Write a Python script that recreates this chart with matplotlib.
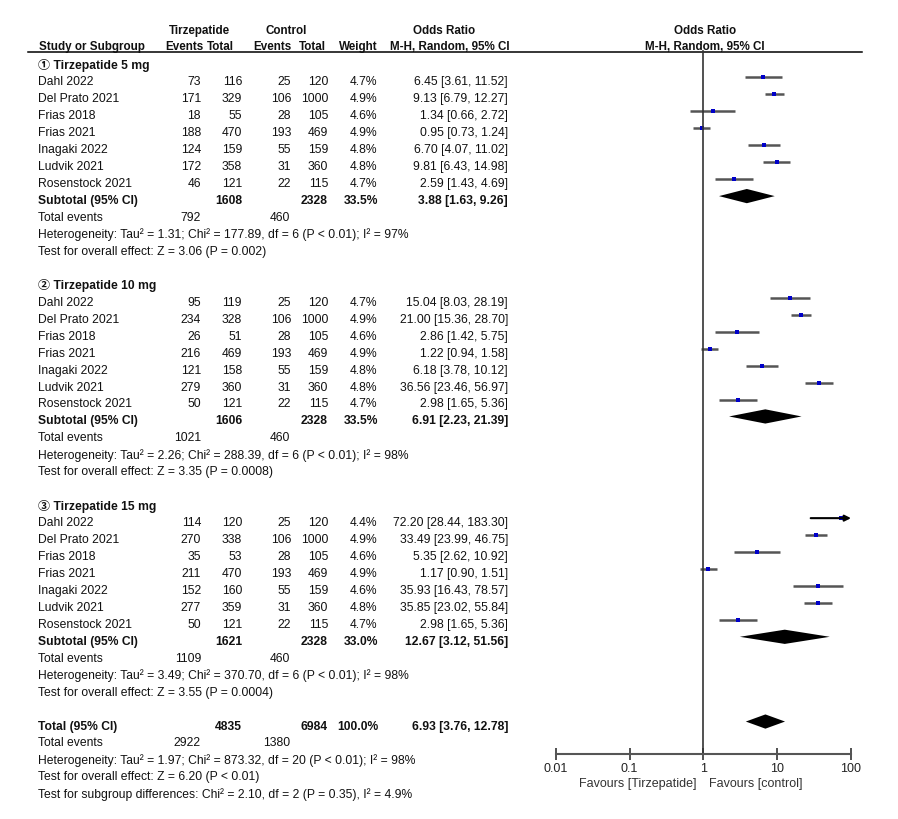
import numpy as np
import matplotlib.pyplot as plt

plt.rcParams['font.family'] = ['Liberation Sans', 'Noto Sans CJK SC', 'DejaVu Sans']

# ---- data ----
studies = ['Dahl 2022', 'Del Prato 2021', 'Frias 2018', 'Frias 2021',
           'Inagaki 2022', 'Ludvik 2021', 'Rosenstock 2021']
group_names = ['\u2460 Tirzepatide 5 mg', '\u2461 Tirzepatide 10 mg', '\u2462 Tirzepatide 15 mg']

tir_events = [[73, 171, 18, 188, 124, 172, 46],
              [95, 234, 26, 216, 121, 279, 50],
              [114, 270, 35, 211, 152, 277, 50]]
tir_total = [[116, 329, 55, 470, 159, 358, 121],
             [119, 328, 51, 469, 158, 360, 121],
             [120, 338, 53, 470, 160, 359, 121]]
ctl_events = [25, 106, 28, 193, 55, 31, 22]
ctl_total = [120, 1000, 105, 469, 159, 360, 115]
weights = [[4.7, 4.9, 4.6, 4.9, 4.8, 4.8, 4.7],
           [4.7, 4.9, 4.6, 4.9, 4.8, 4.8, 4.7],
           [4.4, 4.9, 4.6, 4.9, 4.6, 4.8, 4.7]]
odds = [[6.45, 9.13, 1.34, 0.95, 6.70, 9.81, 2.59],
        [15.04, 21.00, 2.86, 1.22, 6.18, 36.56, 2.98],
        [72.20, 33.49, 5.35, 1.17, 35.93, 35.85, 2.98]]
lower = [[3.61, 6.79, 0.66, 0.73, 4.07, 6.43, 1.43],
         [8.03, 15.36, 1.42, 0.94, 3.78, 23.46, 1.65],
         [28.44, 23.99, 2.62, 0.90, 16.43, 23.02, 1.65]]
upper = [[11.52, 12.27, 2.72, 1.24, 11.02, 14.98, 4.69],
         [28.19, 28.70, 5.75, 1.58, 10.12, 56.97, 5.36],
         [183.30, 46.75, 10.92, 1.51, 78.57, 55.84, 5.36]]

sub_tir_total = [1608, 1606, 1621]
sub_ctl_total = [2328, 2328, 2328]
sub_weight = ['33.5%', '33.5%', '33.0%']
sub_or = [3.88, 6.91, 12.67]
sub_lo = [1.63, 2.23, 3.12]
sub_hi = [9.26, 21.39, 51.56]
sub_tir_events = [792, 1021, 1109]
sub_ctl_events = [460, 460, 460]
sub_het = ['Heterogeneity: Tau\u00b2 = 1.31; Chi\u00b2 = 177.89, df = 6 (P < 0.01); I\u00b2 = 97%',
           'Heterogeneity: Tau\u00b2 = 2.26; Chi\u00b2 = 288.39, df = 6 (P < 0.01); I\u00b2 = 98%',
           'Heterogeneity: Tau\u00b2 = 3.49; Chi\u00b2 = 370.70, df = 6 (P < 0.01); I\u00b2 = 98%']
sub_test = ['Test for overall effect: Z = 3.06 (P = 0.002)',
            'Test for overall effect: Z = 3.35 (P = 0.0008)',
            'Test for overall effect: Z = 3.55 (P = 0.0004)']

tot_tir_total, tot_ctl_total = 4835, 6984
tot_or, tot_lo, tot_hi = 6.93, 3.76, 12.78
tot_tir_events, tot_ctl_events = 2922, 1380
tot_lines = ['Heterogeneity: Tau\u00b2 = 1.97; Chi\u00b2 = 873.32, df = 20 (P < 0.01); I\u00b2 = 98%',
             'Test for overall effect: Z = 6.20 (P < 0.01)',
             'Test for subgroup differences: Chi\u00b2 = 2.10, df = 2 (P = 0.35), I\u00b2 = 4.9%']

tick_vals = [0.01, 0.1, 1, 10, 100]
tick_labels = ['0.01', '0.1', '1', '10', '100']

# ---- layout (pixels) ----
W, H = 898, 820
ROW0, STEP = 65.5, 16.95
FS = 8.7
FS_HEAD = 8.4
TXT = '#111111'
x_name, x_te, x_tt, x_ce, x_ct, x_w, x_or = 38, 201, 242, 291, 328, 377, 508

fig = plt.figure(figsize=(W / 100, H / 100), dpi=100)
ax = fig.add_axes([0, 0, 1, 1])
ax.set_xlim(0, W)
ax.set_ylim((H - ROW0) / STEP, -ROW0 / STEP)
ax.axis('off')

fx0, fx1 = 555.7, 851.0
fax = fig.add_axes([fx0 / W, 4 / H, (fx1 - fx0) / W, 1])
fax.set_xscale('log')
fax.set_xlim(0.01, 100)
fax.set_ylim((H - ROW0) / STEP, -ROW0 / STEP)
fax.patch.set_alpha(0)


def t(x, r, s, ha='left', bold=False, size=FS):
    ax.text(x, r, s, ha=ha, va='center', fontsize=size, color=TXT,
            fontweight='bold' if bold else 'normal')


def hy(pix):
    return (pix - ROW0) / STEP


def head(x, pix, s, ha):
    t(x, hy(pix), s, ha, True, FS_HEAD)


# headers
head(199, 31, 'Tirzepatide', 'center')
head(286, 31, 'Control', 'center')
head(444, 31, 'Odds Ratio', 'center')
head(705, 31, 'Odds Ratio', 'center')
head(39, 47, 'Study or Subgroup', 'left')
head(203, 47, 'Events', 'right')
head(234, 47, 'Total', 'right')
head(292, 47, 'Events', 'right')
head(326, 47, 'Total', 'right')
head(378, 47, 'Weight', 'right')
head(450, 47, 'M-H, Random, 95% CI', 'center')
head(705, 47, 'M-H, Random, 95% CI', 'center')
ax.plot([28, 862], [hy(52.5), hy(52.5)], color='black', lw=1.1)

ci_col = '#555555'
r = 0
for g in range(3):
    t(x_name, r, group_names[g], bold=True)
    r += 1
    for i, s in enumerate(studies):
        t(x_name, r, s)
        t(x_te, r, str(tir_events[g][i]), 'right')
        t(x_tt, r, str(tir_total[g][i]), 'right')
        t(x_ce, r, str(ctl_events[i]), 'right')
        t(x_ct, r, str(ctl_total[i]), 'right')
        t(x_w, r, '%.1f%%' % weights[g][i], 'right')
        t(x_or, r, '%.2f [%.2f, %.2f]' % (odds[g][i], lower[g][i], upper[g][i]), 'right')
        hi = min(upper[g][i], 100)
        if upper[g][i] > 100:
            fax.annotate('', xy=(100, r), xytext=(lower[g][i], r),
                         arrowprops=dict(arrowstyle='-|>', color='black', lw=1.5,
                                         mutation_scale=9, shrinkA=0, shrinkB=0))
        else:
            fax.plot([lower[g][i], hi], [r, r], color=ci_col, lw=1.8, solid_capstyle='butt')
        fax.plot(odds[g][i], r, 's', color='#0000c8', ms=weights[g][i] * 0.6, mew=0)
        r += 1
    t(x_name, r, 'Subtotal (95% CI)', bold=True)
    t(x_tt, r, str(sub_tir_total[g]), 'right', True)
    t(x_ct, r, str(sub_ctl_total[g]), 'right', True)
    t(x_w + 1, r, sub_weight[g], 'right', True)
    t(x_or, r, '%.2f [%.2f, %.2f]' % (sub_or[g], sub_lo[g], sub_hi[g]), 'right', True)
    fax.fill([sub_lo[g], sub_or[g], sub_hi[g], sub_or[g]],
             [r, r - 0.42, r, r + 0.42], color='black', lw=0)
    r += 1
    t(x_name, r, 'Total events')
    t(x_te, r, str(sub_tir_events[g]), 'right')
    t(x_ce - 1, r, str(sub_ctl_events[g]), 'right')
    r += 1
    t(x_name, r, sub_het[g])
    r += 1
    t(x_name, r, sub_test[g])
    r += 2

t(x_name, r, 'Total (95% CI)', bold=True)
t(x_tt, r, str(tot_tir_total), 'right', True)
t(x_ct, r, str(tot_ctl_total), 'right', True)
t(x_w + 1, r, '100.0%', 'right', True)
t(x_or, r, '%.2f [%.2f, %.2f]' % (tot_or, tot_lo, tot_hi), 'right', True)
fax.fill([tot_lo, tot_or, tot_hi, tot_or], [r, r - 0.42, r, r + 0.42], color='black', lw=0)
r += 1
t(x_name, r, 'Total events')
t(x_te, r, str(tot_tir_events), 'right')
t(x_ce - 1, r, str(tot_ctl_events), 'right')
for line in tot_lines:
    r += 1
    t(x_name, r, line)

# forest axis
axis_r = (755 - ROW0 + 4) / STEP
fax.plot([1, 1], [(52 - ROW0 + 4) / STEP, axis_r], color='#333333', lw=1.2)
for sp in ['top', 'left', 'right']:
    fax.spines[sp].set_visible(False)
fax.spines['bottom'].set_position(('data', axis_r))
fax.spines['bottom'].set_color('#555555')
fax.spines['bottom'].set_linewidth(1.5)
fax.set_yticks([])
fax.set_xticks(tick_vals)
fax.set_xticklabels(tick_labels)
fax.xaxis.set_minor_locator(plt.NullLocator())
fax.tick_params(axis='x', direction='inout', length=9, width=1.2, color='#333333',
                labelsize=9, labelcolor='#222222', pad=1)
fig.text(696.5 / W, 1 - 784 / H, 'Favours [Tirzepatide]', ha='right', va='center',
         fontsize=9, color='#333333')
fig.text(709 / W, 1 - 784 / H, 'Favours [control]', ha='left', va='center',
         fontsize=9, color='#333333')

fig.savefig('out.png', dpi=100)
